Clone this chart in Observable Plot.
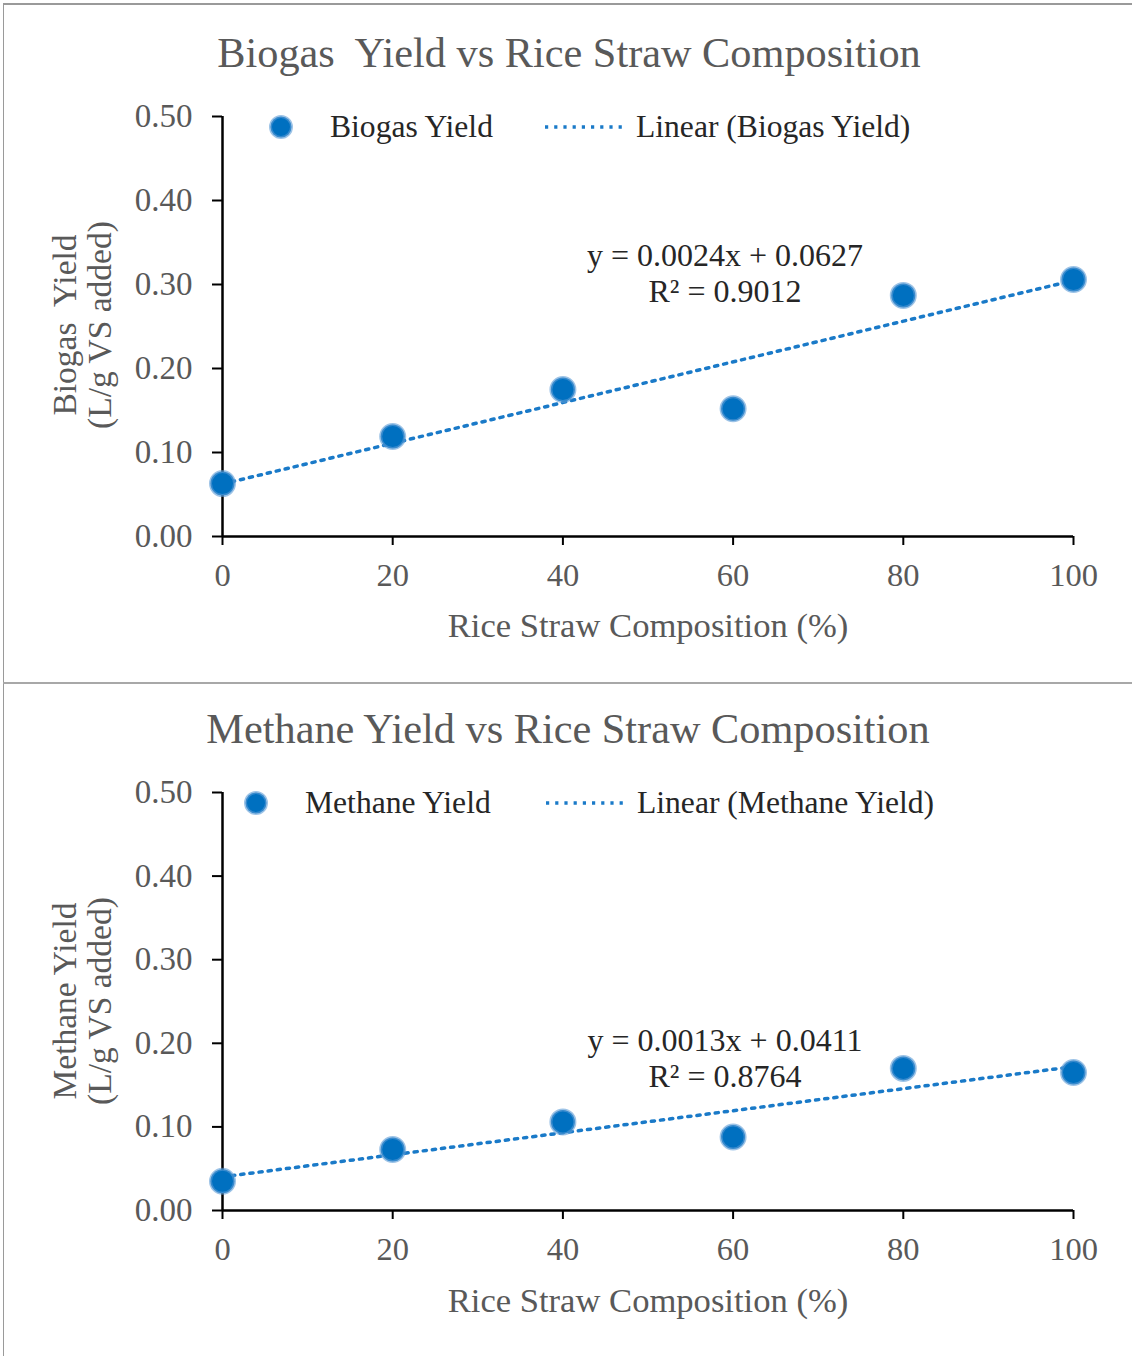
<!DOCTYPE html>
<html><head><meta charset="utf-8">
<script src="https://cdn.jsdelivr.net/npm/d3@7"></script>
<script src="https://cdn.jsdelivr.net/npm/@observablehq/plot@0.6"></script>
<style>
body{margin:0;background:#fff;}
#root{position:relative;width:1132px;height:1356px;overflow:hidden;font-family:"Liberation Serif","Times New Roman",serif;background:#fff;}
.panel{position:absolute;left:0;width:1132px;}
.abs{position:absolute;white-space:pre;line-height:1;}
.c{transform:translate(-50%,-50%);}
.title{font-size:42.3px;color:#595959;}
.leg{font-size:31.6px;color:#262626;transform:translateY(-50%);}
.eq{font-size:32px;color:#262626;text-align:center;transform:translate(-50%,-50%);line-height:36px;}
.xt{font-size:34.6px;color:#595959;}
.yt{font-size:33.5px;color:#595959;text-align:center;line-height:35px;transform:translate(-50%,-50%) rotate(-90deg);}
svg.chart g[aria-label$="tick label"]{fill:#595959;}
</style></head><body><div id="root"></div>
<script>
// ---- data ----
const composition = [0, 20, 40, 60, 80, 100];
const biogasYield = [0.063, 0.119, 0.175, 0.152, 0.287, 0.306];
const methaneYield = [0.035, 0.073, 0.106, 0.088, 0.170, 0.165];
const xTicks = [0, 20, 40, 60, 80, 100];
const yTicks = [0.0, 0.1, 0.2, 0.3, 0.4, 0.5];
const titles = ["Biogas  Yield vs Rice Straw Composition", "Methane Yield vs Rice Straw Composition"];
const seriesNames = ["Biogas Yield", "Methane Yield"];
const equations = ["y = 0.0024x + 0.0627", "y = 0.0013x + 0.0411"];
const rSquared = ["R² = 0.9012", "R² = 0.8764"];
const yTitles = [["Biogas  Yield", "(L/g VS added)"], ["Methane Yield", "(L/g VS added)"]];
const xTitle = "Rice Straw Composition (%)";

const BLUE = "#0070C0";
const root = document.getElementById("root");

const layouts = [
  {top: 0, height: 683, mt: 116, mb: 147, titleX: 569, titleY: 53, legY: 127, legDot: 281, legText: 330, legLine: 545, legText2: 636, eqY: 273, xtY: 625, ytY: 325},
  {top: 683, height: 673, mt: 109, mb: 146, titleX: 568, titleY: 46, legY: 120, legDot: 256, legText: 305, legLine: 546, legText2: 637, eqY: 375, xtY: 617, ytY: 318}
];
const seriesValues = [biogasYield, methaneYield];

layouts.forEach((L, i) => {
  const data = composition.map((x, k) => ({x, y: seriesValues[i][k]}));
  const panel = document.createElement("div");
  panel.className = "panel";
  panel.style.top = L.top + "px";
  panel.style.height = L.height + "px";
  root.appendChild(panel);

  const chart = Plot.plot({
    width: 1132,
    height: L.height,
    marginLeft: 222,
    marginRight: 59,
    marginTop: L.mt,
    marginBottom: L.mb,
    style: {fontFamily: "'Liberation Serif','Times New Roman',serif", overflow: "visible", background: "transparent"},
    x: {domain: [0, 100]},
    y: {domain: [0, 0.5]},
    marks: [
      Plot.axisX({ticks: xTicks, tickSize: 9, tickPadding: 17, fontSize: 32.5, stroke: "black", strokeWidth: 2, label: null, tickFormat: d => String(d)}),
      Plot.axisY({ticks: yTicks, tickSize: 10, tickPadding: 20, fontSize: 33, stroke: "black", strokeWidth: 2, label: null, tickFormat: d3.format(".2f")}),
      Plot.ruleY([0], {stroke: "black", strokeWidth: 2.5}),
      Plot.ruleX([0], {stroke: "black", strokeWidth: 2.5}),
      Plot.linearRegressionY(data, {x: "x", y: "y", ci: 0, stroke: "#1A7AC8", strokeWidth: 3.5, strokeDasharray: "3.2 6"}),
      Plot.dot(data, {x: "x", y: "y", r: 12, fill: BLUE, stroke: "#5B9BD5", strokeOpacity: 0.6, strokeWidth: 3})
    ]
  });
  chart.classList.add("chart");
  chart.style.position = "absolute";
  chart.style.left = "0px";
  chart.style.top = "0px";
  panel.appendChild(chart);

  const add = (cls, text, x, y) => {
    const d = document.createElement("div");
    d.className = "abs " + cls;
    d.textContent = text;
    d.style.left = x + "px";
    d.style.top = y + "px";
    panel.appendChild(d);
    return d;
  };
  add("title c", titles[i], L.titleX, L.titleY);
  add("leg", seriesNames[i], L.legText, L.legY);
  add("leg", "Linear (" + seriesNames[i] + ")", L.legText2, L.legY);
  add("eq", equations[i] + "\n" + rSquared[i], 725, L.eqY);
  add("xt c", xTitle, 648, L.xtY);
  add("yt", yTitles[i].join("\n"), 82, L.ytY);

  // legend symbols
  const ns = "http://www.w3.org/2000/svg";
  const s = document.createElementNS(ns, "svg");
  s.setAttribute("width", 1132); s.setAttribute("height", 40);
  s.style.position = "absolute"; s.style.left = "0px"; s.style.top = (L.legY - 20) + "px";
  s.innerHTML = `<circle cx="${L.legDot}" cy="20" r="10.5" fill="${BLUE}" stroke="#5B9BD5" stroke-opacity="0.6" stroke-width="3"/>
    <line x1="${L.legLine}" x2="${L.legLine + 78}" y1="20" y2="20" stroke="#1A7AC8" stroke-width="3.5" stroke-dasharray="3.2 6"/>`;
  panel.appendChild(s);
});

// borders
const line = (style) => { const d = document.createElement("div"); d.style.position = "absolute"; Object.assign(d.style, style); root.appendChild(d); };
line({left: "3px", top: "3px", width: "1129px", height: "2px", background: "#9a9a9a"});
line({left: "3px", top: "3px", width: "1px", height: "1353px", background: "#9a9a9a"});
line({left: "3px", top: "682px", width: "1129px", height: "2px", background: "#a8a8a8"});
</script>
</body></html>
